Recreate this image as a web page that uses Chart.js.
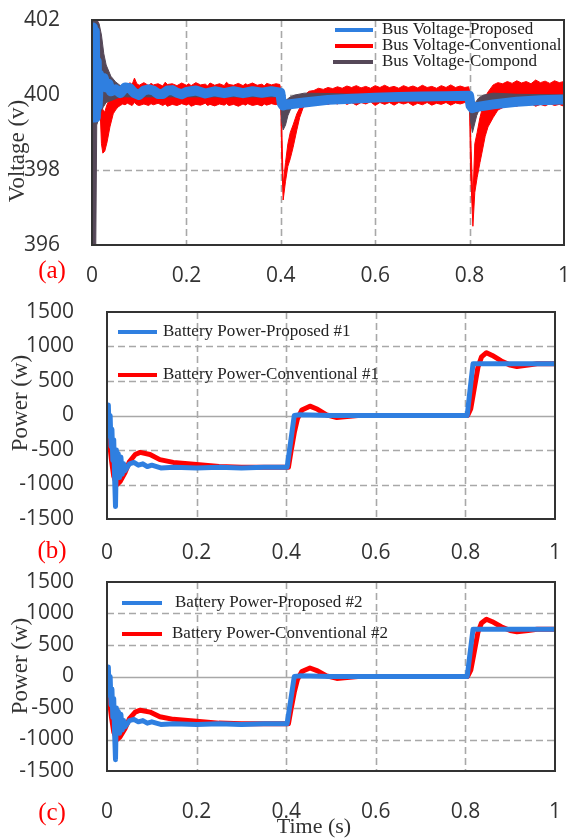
<!DOCTYPE html>
<html>
<head>
<meta charset="utf-8">
<script src="https://cdn.jsdelivr.net/npm/chart.js@4.4.1/dist/chart.umd.min.js"></script>
<style>
  body { margin: 0; background: #fff; }
  #wrap { position: relative; width: 570px; height: 838px; overflow: hidden; }
  #wrap canvas { position: absolute; left: 0; }
  .tag { position: absolute; font-family: "Liberation Serif", serif; color: #ff0000; font-size: 25px; transform: translate(-50%, -50%); }
  .ytitle { position: absolute; font-family: "Liberation Serif", serif; color: #333; font-size: 23px; white-space: nowrap;
            transform: translate(-50%, -50%) rotate(-90deg); }
  .xtitle { position: absolute; font-family: "Liberation Serif", serif; color: #333; font-size: 22px; white-space: nowrap;
            transform: translate(-50%, -50%); }
</style>
</head>
<body>
<div id="wrap">
  <canvas id="busChart" width="570" height="290" style="top:0px"></canvas>
  <canvas id="batt1Chart" width="570" height="280" style="top:290px"></canvas>
  <canvas id="batt2Chart" width="570" height="268" style="top:570px"></canvas>

  <div class="ytitle" style="left:17px; top:151px">Voltage (v)</div>
  <div class="ytitle" style="left:20px; top:403px">Power (w)</div>
  <div class="ytitle" style="left:20px; top:666px">Power (w)</div>
  <div class="tag" style="left:52px; top:270px">(a)</div>
  <div class="tag" style="left:52px; top:550px">(b)</div>
  <div class="tag" style="left:52px; top:812px">(c)</div>
  <div class="xtitle" style="left:314px; top:826px">Time (s)</div>
</div>

<script>
// axes
const xTicks = [0, 0.2, 0.4, 0.6, 0.8, 1];
const xTickLabels = ["0", "0.2", "0.4", "0.6", "0.8", "1"];
const voltTicks = [396, 398, 400, 402];
const powerTicks = [-1500, -1000, -500, 0, 500, 1000, 1500];

// bus voltage - proposed (centre of the ripple band)
const tBusProp = [0, 0.002, 0.004, 0.006, 0.008, 0.01, 0.012, 0.015, 0.02, 0.025, 0.03, 0.035, 0.04, 0.05,
  0.06, 0.07, 0.08, 0.09, 0.1, 0.11, 0.12, 0.13, 0.14, 0.15, 0.16, 0.17, 0.18, 0.19, 0.2, 0.22, 0.24, 0.26,
  0.28, 0.3, 0.32, 0.34, 0.36, 0.38, 0.399, 0.402, 0.405, 0.41, 0.45, 0.5, 0.55, 0.6, 0.65, 0.7, 0.75,
  0.799, 0.802, 0.806, 0.81, 0.85, 0.9, 0.95, 1.0];
const busProp = [400.4, 401.8, 399.4, 401.7, 399.4, 400.9, 399.7, 400.55, 400.25, 400.45, 400.2, 400.3, 400.1, 400.15,
  400.05, 400.2, 400.18, 400.05, 400.0, 400.12, 400.15, 400.12, 400.03, 400.03, 400.12, 400.13, 400.06, 400.02, 400.08, 400.12, 400.04, 400.1,
  400.05, 400.1, 400.05, 400.1, 400.06, 400.1, 400.06, 399.78, 399.72, 399.74, 399.8, 399.87, 399.9, 399.93, 399.95, 399.96, 399.97,
  399.98, 399.72, 399.65, 399.67, 399.75, 399.82, 399.86, 399.88];

// bus voltage - compond (upper / lower edge of the trace)
const tBusComp = [0, 0.002, 0.004, 0.006, 0.008, 0.01, 0.015, 0.02, 0.025, 0.03, 0.04, 0.05, 0.06, 0.08, 0.1,
  0.2, 0.3, 0.39, 0.399, 0.402, 0.405, 0.41, 0.415, 0.42, 0.43, 0.45, 0.5, 0.6, 0.7, 0.79,
  0.799, 0.802, 0.806, 0.81, 0.815, 0.82, 0.83, 0.85, 0.9, 1.0];
const busCompHi = [402, 402, 402, 402, 402, 402, 401.9, 401.6, 401.1, 400.8, 400.5, 400.35, 400.25, 400.2, 400.15,
  400.15, 400.15, 400.15, 400.15, 400.0, 399.8, 399.85, 399.9, 399.95, 400.0, 400.05, 400.04, 400.0, 400.0, 400.02,
  400.02, 399.85, 399.7, 399.75, 399.85, 399.93, 400.0, 400.05, 400.02, 400.0];
const busCompLo = [396, 396, 396, 396, 396, 399.2, 399.4, 399.6, 399.7, 399.8, 399.85, 399.9, 399.95, 399.95, 399.95,
  399.95, 399.95, 399.95, 399.95, 399.3, 399.07, 399.2, 399.45, 399.6, 399.75, 399.85, 399.9, 399.9, 399.9, 399.9,
  399.9, 399.3, 399.0, 399.2, 399.45, 399.6, 399.72, 399.82, 399.88, 399.9];

// bus voltage - conventional (noisy, upper / lower edge)
const tBusConv = [0.012, 0.016, 0.02, 0.023, 0.027, 0.032, 0.038, 0.045, 0.05, 0.055,
  0.06, 0.065, 0.07, 0.075, 0.08, 0.085, 0.09, 0.095, 0.1, 0.11, 0.12, 0.125, 0.13, 0.14, 0.15, 0.155, 0.16, 0.17, 0.18, 0.19,
  0.2, 0.205, 0.21, 0.22, 0.23, 0.24, 0.245, 0.25, 0.26, 0.27, 0.28, 0.285, 0.29, 0.3, 0.31, 0.32, 0.325, 0.33,
  0.34, 0.35, 0.36, 0.365, 0.37, 0.38, 0.39,
  0.398, 0.4, 0.402, 0.405, 0.41, 0.415, 0.42, 0.426, 0.434, 0.44, 0.447, 0.455,
  0.46, 0.47, 0.48, 0.49, 0.5, 0.51, 0.52, 0.53, 0.54, 0.55, 0.56, 0.57, 0.58, 0.59, 0.6, 0.61, 0.62, 0.63,
  0.64, 0.65, 0.66, 0.67, 0.68, 0.69, 0.7, 0.71, 0.72, 0.73, 0.74, 0.75, 0.76, 0.77, 0.78, 0.79,
  0.798, 0.8, 0.802, 0.807, 0.811, 0.816, 0.822, 0.826, 0.833, 0.839, 0.85,
  0.86, 0.87, 0.88, 0.89, 0.9, 0.91, 0.92, 0.93, 0.94, 0.95, 0.96, 0.97, 0.98, 0.99, 1.0];
const busConvHi = [402, 401.0, 399.9, 399.6, 399.55, 399.75, 399.9, 400.05, 400.15, 400.2,
  400.25, 400.22, 400.3, 400.26, 400.33, 400.28, 400.45, 400.3, 400.26, 400.33, 400.25, 400.31, 400.27, 400.3, 400.24, 400.34, 400.28, 400.3, 400.25, 400.32,
  400.26, 400.3, 400.25, 400.33, 400.27, 400.29, 400.24, 400.32, 400.26, 400.3, 400.25, 400.34, 400.28, 400.26, 400.31, 400.25, 400.3, 400.27,
  400.32, 400.26, 400.29, 400.24, 400.31, 400.27, 400.3,
  400.28, 400.1, 399.2, 397.6, 398.2, 398.7, 399.0, 399.2, 399.5, 399.65, 399.9, 400.05,
  400.1, 400.12, 400.18, 400.15, 400.2, 400.17, 400.22, 400.18, 400.24, 400.2, 400.25, 400.19, 400.23, 400.18, 400.25, 400.2, 400.26, 400.2,
  400.23, 400.18, 400.25, 400.2, 400.24, 400.19, 400.26, 400.2, 400.23, 400.18, 400.25, 400.2, 400.27, 400.2, 400.24, 400.2,
  400.22, 400.1, 399.0, 397.2, 398.7, 399.0, 399.4, 399.6, 399.95, 400.08, 400.27,
  400.33, 400.3, 400.36, 400.31, 400.38, 400.32, 400.36, 400.3, 400.4, 400.33, 400.37, 400.31, 400.38, 400.33, 400.36];
const busConvLo = [401.6, 400.0, 398.7, 398.45, 398.5, 398.75, 399.15, 399.5, 399.6, 399.68,
  399.72, 399.76, 399.74, 399.78, 399.75, 399.72, 399.8, 399.74, 399.72, 399.76, 399.72, 399.77, 399.74, 399.78, 399.72, 399.76, 399.7, 399.75, 399.72, 399.77,
  399.73, 399.76, 399.7, 399.75, 399.73, 399.78, 399.72, 399.75, 399.71, 399.76, 399.73, 399.77, 399.72, 399.75, 399.7, 399.76, 399.73, 399.77,
  399.72, 399.75, 399.71, 399.76, 399.73, 399.77, 399.74,
  399.8, 399.7, 398.3, 397.2, 397.7, 398.1, 398.3, 398.6, 399.07, 399.4, 399.65, 399.75,
  399.78, 399.8, 399.76, 399.8, 399.75, 399.8, 399.76, 399.82, 399.75, 399.8, 399.73, 399.8, 399.76, 399.82, 399.72, 399.8, 399.75, 399.8,
  399.73, 399.8, 399.76, 399.8, 399.72, 399.78, 399.74, 399.8, 399.73, 399.78, 399.75, 399.8, 399.73, 399.79, 399.76, 399.8,
  399.78, 399.7, 398.0, 396.5, 397.4, 397.8, 398.2, 398.45, 398.9, 399.15, 399.4,
  399.6, 399.66, 399.7, 399.74, 399.7, 399.76, 399.72, 399.77, 399.7, 399.75, 399.71, 399.77, 399.72, 399.75, 399.7];

// battery power (same profile for #1 and #2)
const tPowProp = [0, 0.003, 0.005, 0.007, 0.009, 0.011, 0.013, 0.015, 0.017, 0.019, 0.021, 0.023, 0.025, 0.028,
  0.031, 0.034, 0.037, 0.04, 0.05, 0.06, 0.07, 0.08, 0.09, 0.1, 0.12, 0.15, 0.2, 0.25, 0.3, 0.35,
  0.402, 0.41, 0.418, 0.43, 0.5, 0.6, 0.7, 0.804, 0.81, 0.817, 0.85, 0.9, 1.0];
const powProp = [100, 150, -300, 0, -450, -200, -650, -350, -900, -1320, -500, -850, -550, -900,
  -600, -850, -700, -800, -700, -680, -720, -700, -740, -720, -760, -750, -760, -750, -760, -750,
  -750, -380, 0, 10, 0, 0, 0, 0, 350, 750, 750, 750, 750];

const tPowConv = [0, 0.005, 0.01, 0.015, 0.022, 0.029, 0.04, 0.05, 0.063, 0.074, 0.096, 0.118, 0.148, 0.2,
  0.25, 0.3, 0.35, 0.405, 0.41, 0.418, 0.425, 0.435, 0.453, 0.47, 0.49, 0.513, 0.53, 0.56, 0.6, 0.7,
  0.805, 0.812, 0.82, 0.828, 0.836, 0.847, 0.86, 0.88, 0.9, 0.915, 0.94, 0.96, 1.0];
const powConv = [-100, -350, -650, -880, -1000, -960, -830, -670, -565, -535, -565, -640, -680, -710,
  -740, -750, -750, -750, -550, -250, -50, 80, 135, 90, 10, -30, -20, 0, 0, 0,
  0, 100, 400, 700, 850, 910, 870, 790, 730, 710, 730, 750, 750];

const BLUE = "#2f7fe0";
const RED = "#ff0000";
const DARK = "#554858";

function pts(t, v) {
  return t.map((x, i) => ({ x: x, y: v[i] }));
}

// dashed grid, zero line and frame
const frameGrid = {
  id: "frameGrid",
  beforeDatasetsDraw(chart, args, opts) {
    const { ctx, chartArea: a, scales: { x, y } } = chart;
    ctx.save();
    ctx.lineWidth = 1.6;
    ctx.strokeStyle = "#a8a8a8";
    ctx.setLineDash([7, 4]);
    xTicks.slice(1, -1).forEach(v => {
      const px = Math.round(x.getPixelForValue(v)) + 0.5;
      ctx.beginPath(); ctx.moveTo(px, a.top); ctx.lineTo(px, a.bottom); ctx.stroke();
    });
    opts.yTicks.slice(1, -1).forEach(v => {
      if (opts.zeroSolid && v === 0) return;
      const py = Math.round(y.getPixelForValue(v)) + 0.5;
      ctx.beginPath(); ctx.moveTo(a.left, py); ctx.lineTo(a.right, py); ctx.stroke();
    });
    if (opts.zeroSolid) {
      ctx.setLineDash([]);
      const py = Math.round(y.getPixelForValue(0)) + 0.5;
      ctx.beginPath(); ctx.moveTo(a.left, py); ctx.lineTo(a.right, py); ctx.stroke();
    }
    ctx.restore();
  },
  afterDatasetsDraw(chart) {
    const { ctx, chartArea: a } = chart;
    ctx.save();
    ctx.lineWidth = 2;
    ctx.strokeStyle = "#333";
    ctx.strokeRect(a.left, a.top, a.right - a.left, a.bottom - a.top);
    ctx.restore();
  }
};

// legend drawn inside the plot area
const insideLegend = {
  id: "insideLegend",
  afterDraw(chart, args, opts) {
    const ctx = chart.ctx;
    ctx.save();
    ctx.font = opts.font;
    ctx.textBaseline = "middle";
    ctx.fillStyle = "#222";
    opts.rows.forEach(r => {
      const ds = chart.data.datasets[r.ds];
      ctx.strokeStyle = ds.borderColor;
      ctx.lineWidth = 4;
      ctx.beginPath(); ctx.moveTo(r.x1, r.y); ctx.lineTo(r.x2, r.y); ctx.stroke();
      ctx.fillText(ds.label, r.tx, r.y);
    });
    ctx.restore();
  }
};

function makePanel(id, datasets, cfg) {
  return new Chart(document.getElementById(id), {
    type: "line",
    data: { datasets: datasets },
    plugins: [frameGrid, insideLegend],
    options: {
      responsive: false,
      animation: false,
      devicePixelRatio: 1,
      layout: { padding: { top: cfg.padTop, right: cfg.padRight, left: 0, bottom: 0 } },
      elements: { point: { radius: 0 }, line: { tension: 0, borderJoinStyle: "round" } },
      scales: {
        x: {
          type: "linear", min: 0, max: 1,
          grid: { display: false }, border: { display: false },
          // fixed axis box; the plot edges come from layout padding only
          afterFit: s => { s.height = cfg.xHeight; s.paddingLeft = 0; s.paddingRight = 0; },
          afterBuildTicks: s => { s.ticks = xTicks.map(v => ({ value: v })); },
          ticks: {
            padding: cfg.xPad, color: "#333", maxRotation: 0, autoSkip: false,
            font: { family: "Open Sans", size: 21 },
            callback: (v, i) => xTickLabels[i]
          }
        },
        y: {
          type: "linear", min: cfg.yTicks[0], max: cfg.yTicks[cfg.yTicks.length - 1],
          grid: { display: false }, border: { display: false },
          afterFit: s => { s.width = cfg.yWidth; s.paddingTop = 0; s.paddingBottom = 0; },
          afterBuildTicks: s => { s.ticks = cfg.yTicks.map(v => ({ value: v })); },
          ticks: {
            padding: cfg.yPad, color: "#333", autoSkip: false,
            font: { family: "Open Sans", size: 21 },
            callback: v => String(v)
          }
        }
      },
      plugins: {
        legend: { display: false },
        tooltip: { enabled: false },
        frameGrid: { yTicks: cfg.yTicks, zeroSolid: cfg.zeroSolid },
        insideLegend: { font: cfg.legendFont, rows: cfg.legendRows }
      }
    }
  });
}

// (a) DC bus voltage
makePanel("busChart", [
  { label: "Bus Voltage-Proposed", data: pts(tBusProp, busProp), borderColor: BLUE, borderWidth: 10, clip: 0 },
  { label: "Bus Voltage-Compond", data: pts(tBusComp, busCompHi), borderColor: DARK, backgroundColor: DARK, borderWidth: 1, clip: 0 },
  { label: "compond-lo", data: pts(tBusComp, busCompLo), borderColor: DARK, backgroundColor: DARK, borderWidth: 1, fill: "-1", clip: 0 },
  { label: "Bus Voltage-Conventional", data: pts(tBusConv, busConvHi), borderColor: RED, backgroundColor: RED, borderWidth: 1, clip: 0 },
  { label: "conventional-lo", data: pts(tBusConv, busConvLo), borderColor: RED, backgroundColor: RED, borderWidth: 1, fill: "-1", clip: 0 }
], {
  padTop: 20, padRight: 6, xHeight: 45, yWidth: 92, xPad: 10, yPad: 24,
  yTicks: voltTicks, zeroSolid: false,
  legendFont: '17px "Liberation Serif"',
  legendRows: [
    { ds: 0, x1: 335, x2: 373, tx: 382, y: 30 },
    { ds: 3, x1: 335, x2: 373, tx: 382, y: 46 },
    { ds: 1, x1: 333, x2: 373, tx: 382, y: 62 }
  ]
});

// (b) battery #1 power
makePanel("batt1Chart", [
  { label: "Battery Power-Proposed #1", data: pts(tPowProp, powProp), borderColor: BLUE, borderWidth: 5, clip: 0 },
  { label: "Battery Power-Conventional #1", data: pts(tPowConv, powConv), borderColor: RED, borderWidth: 5, clip: 0 }
], {
  padTop: 22, padRight: 15, xHeight: 51, yWidth: 107, xPad: 13, yPad: 25,
  yTicks: powerTicks, zeroSolid: true,
  legendFont: '17px "Liberation Serif"',
  legendRows: [
    { ds: 0, x1: 118, x2: 157, tx: 163, y: 42 },
    { ds: 1, x1: 118, x2: 157, tx: 163, y: 85 }
  ]
});

// (c) battery #2 power
makePanel("batt2Chart", [
  { label: "Battery Power-Proposed #2", data: pts(tPowProp, powProp), borderColor: BLUE, borderWidth: 5, clip: 0 },
  { label: "Battery Power-Conventional #2", data: pts(tPowConv, powConv), borderColor: RED, borderWidth: 5, clip: 0 }
], {
  padTop: 12, padRight: 15, xHeight: 67, yWidth: 107, xPad: 20, yPad: 25,
  yTicks: powerTicks, zeroSolid: true,
  legendFont: '17px "Liberation Serif"',
  legendRows: [
    { ds: 0, x1: 122, x2: 162, tx: 175, y: 33 },
    { ds: 1, x1: 122, x2: 162, tx: 172, y: 64 }
  ]
});
</script>
</body>
</html>
